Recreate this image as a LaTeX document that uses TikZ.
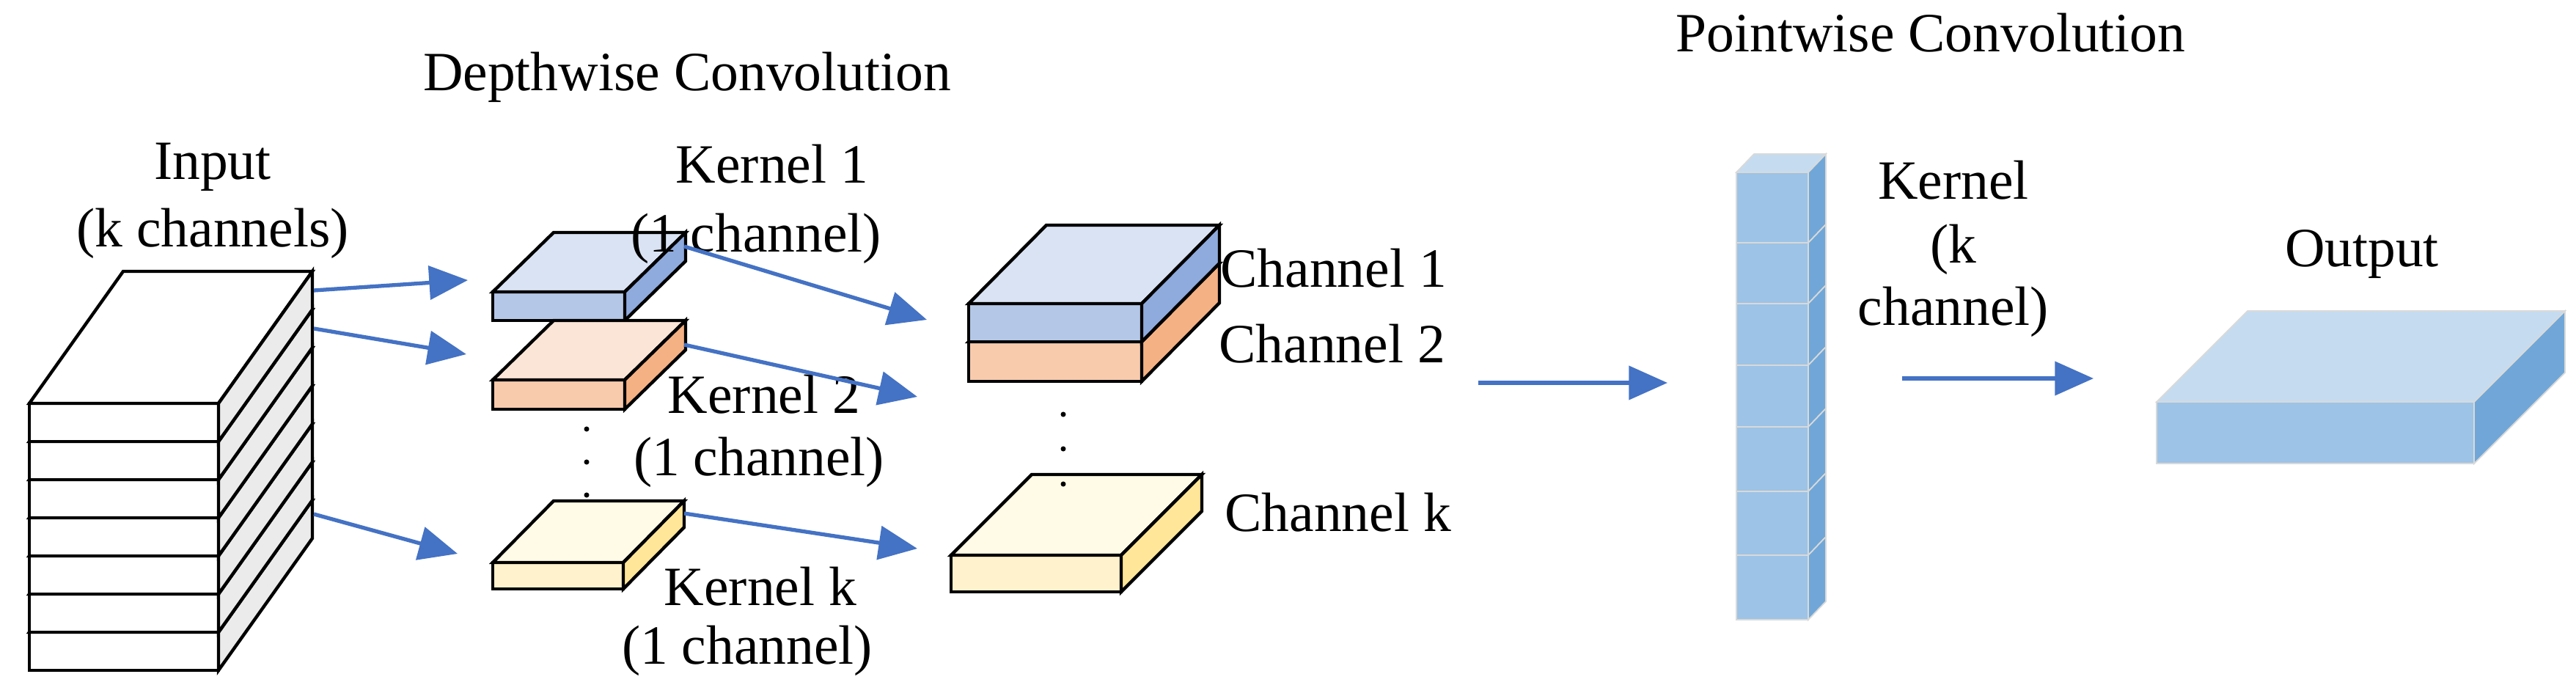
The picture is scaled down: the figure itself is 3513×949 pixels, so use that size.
\documentclass[tikz,border=0pt]{standalone}
\usepackage{fontspec}
\setmainfont{Liberation Serif}
\usetikzlibrary{arrows.meta}
\definecolor{arr}{HTML}{4472C4}
\definecolor{pwf}{RGB}{157,195,230}
\definecolor{pwt}{RGB}{197,220,240}
\definecolor{pws}{RGB}{112,167,216}
\newcommand{\myslab}[9]{% x y w h dx dy front top side (y down)
  \filldraw[#7] (#1,#2) rectangle ++(#3,#4);
  \filldraw[#8] (#1,#2) -- ++(#5,-#6) -- ++(#3,0) -- ++(-#5,#6) -- cycle;
  \filldraw[#9] (#1+#3,#2) -- ++(#5,-#6) -- ++(0,#4) -- ++(-#5,#6) -- cycle;
}
\begin{document}
\begin{tikzpicture}[x=0.02cm,y=-0.02cm,
  lbl/.style={font=\fontsize{43pt}{50pt}\selectfont,inner sep=0pt,align=center},
  bk/.style={draw=black,line width=2.5pt},
  nb/.style={draw=#1,line width=1pt},
  link/.style={draw=arr,line width=3pt,-{Triangle[length=30pt,width=26pt]}},
  dot/.style={circle,fill=black,inner sep=0pt,minimum size=4pt}]
\useasboundingbox[fill=white] (0,0) rectangle (3513,949);
% input stack: 7 layers
\foreach \i in {6,...,0}{
  \myslab{40}{550+\i*52}{258}{52}{128}{180}{bk,fill=white}{bk,fill=white}{bk,fill=black!8}
}
% kernels
\myslab{672}{398}{180}{39}{83}{81}{bk,fill={rgb,255:red,180;green,199;blue,231}}{bk,fill={rgb,255:red,218;green,227;blue,243}}{bk,fill={rgb,255:red,143;green,170;blue,220}}
\myslab{672}{518}{180}{40}{83}{81}{bk,fill={rgb,255:red,248;green,203;blue,173}}{bk,fill={rgb,255:red,251;green,229;blue,214}}{bk,fill={rgb,255:red,244;green,177;blue,131}}
\myslab{672}{767}{178}{36}{83}{84}{bk,fill={rgb,255:red,255;green,242;blue,204}}{bk,fill={rgb,255:red,255;green,251;blue,230}}{bk,fill={rgb,255:red,255;green,230;blue,153}}
\node[dot] (d1) at (800,585) {};
\node[dot] (d2) at (800,630) {};
\node[dot] (d3) at (800,675) {};
% channel stack
\myslab{1321}{466}{236}{54}{106}{107}{bk,fill={rgb,255:red,248;green,203;blue,173}}{bk,fill={rgb,255:red,251;green,229;blue,214}}{bk,fill={rgb,255:red,244;green,177;blue,131}}
\myslab{1321}{414}{236}{52}{106}{107}{bk,fill={rgb,255:red,180;green,199;blue,231}}{bk,fill={rgb,255:red,218;green,227;blue,243}}{bk,fill={rgb,255:red,143;green,170;blue,220}}
\myslab{1297}{757}{232}{50}{110}{110}{bk,fill={rgb,255:red,255;green,242;blue,204}}{bk,fill={rgb,255:red,255;green,251;blue,230}}{bk,fill={rgb,255:red,255;green,230;blue,153}}
\node[dot] (d4) at (1450,565) {};
\node[dot] (d5) at (1450,612) {};
\node[dot] (d6) at (1450,660) {};
% pointwise column
\filldraw[nb=black!15,fill=pwt] (2368,235) -- ++(24,-25) -- ++(98,0) -- ++(-24,25) -- cycle;
\foreach \a/\b in {235/331,331/414,414/498,498/582,582/670,670/757,757/845}{
  \filldraw[nb=black!15,fill=pwf] (2368,\a) rectangle (2466,\b);
  \filldraw[nb=black!15,fill=pws] (2466,\a) -- ++(24,-25) -- (2490,\b-25) -- (2466,\b) -- cycle;
}
% output
\myslab{2941}{548}{433}{84}{124}{124}{nb=black!15,fill=pwf}{nb=black!15,fill=pwt}{nb=black!15,fill=pws}
% labels
\node[lbl] (tdw) at (937,105) {Depthwise Convolution};
\node[lbl] (tpw) at (2633,45) {Pointwise Convolution};
\node[lbl] (tin) at (290,228) {Input};
\node[lbl] (tinc) at (290,318) {(k channels)};
\node[lbl] (tk1) at (1053,224) {Kernel 1};
\node[lbl] (tk1c) at (1031,325) {(1 channel)};
\node[lbl] (tk2) at (1042,538) {Kernel 2};
\node[lbl] (tk2c) at (1035,630) {(1 channel)};
\node[lbl] (tkk) at (1037,800) {Kernel k};
\node[lbl] (tkkc) at (1019,887) {(1 channel)};
\node[lbl,anchor=west] (tc1) at (1664,366) {Channel 1};
\node[lbl,anchor=west] (tc2) at (1662,469) {Channel 2};
\node[lbl,anchor=west] (tck) at (1670,699) {Channel k};
\node[lbl] (tpk) at (2664,246) {Kernel};
\node[lbl] (tpk2) at (2664,340) {(k};
\node[lbl] (tpk3) at (2664,425) {channel)};
\node[lbl] (tout) at (3221,347) {Output};
% arrows
\coordinate (a1s) at (428,396); \coordinate (a1e) at (638,382);
\coordinate (a2s) at (428,448); \coordinate (a2e) at (636,483);
\coordinate (a3s) at (428,701); \coordinate (a3e) at (624,755);
\coordinate (b1s) at (933,336); \coordinate (b1e) at (1264,436);
\coordinate (b2s) at (933,470); \coordinate (b2e) at (1251,541);
\coordinate (b3s) at (933,700); \coordinate (b3e) at (1251,748);
\coordinate (c1s) at (2016,522); \coordinate (c1e) at (2274,522);
\coordinate (c2s) at (2594,516); \coordinate (c2e) at (2855,516);
\foreach \s/\e in {a1s/a1e,a2s/a2e,a3s/a3e,b1s/b1e,b2s/b2e,b3s/b3e,c1s/c1e,c2s/c2e}
  \draw[link] (\s) -- (\e);
\end{tikzpicture}
\end{document}
